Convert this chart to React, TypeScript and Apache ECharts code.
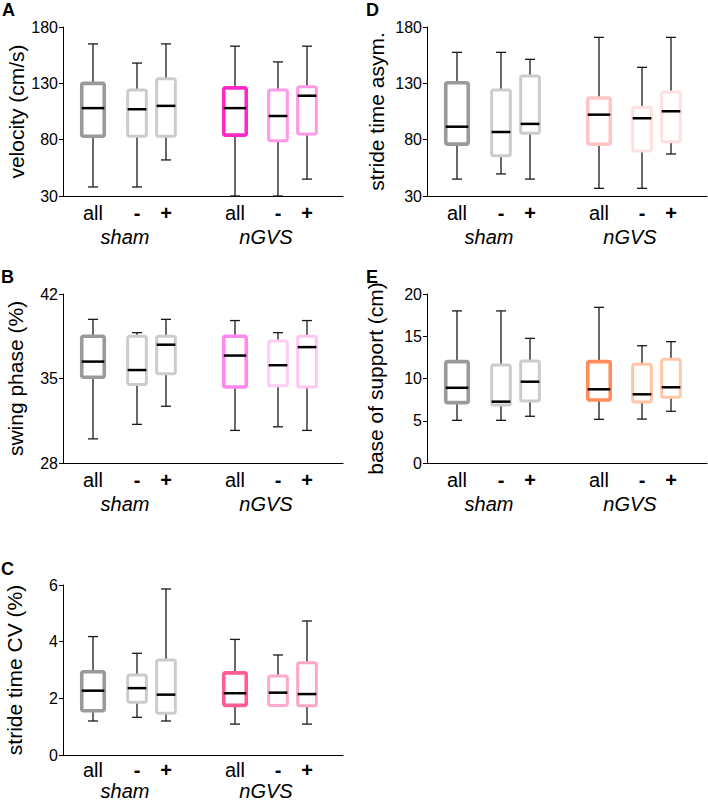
import React, { useEffect, useRef } from 'react';
import * as echarts from 'echarts';

const FONT = '"Liberation Sans", Arial, Helvetica, sans-serif';

const groupLabels = ['sham', 'nGVS'];
const conditionLabels = ['all', '-', '+', 'all', '-', '+'];
const boxX = [3.0, 7.4, 10.3, 17.2, 21.5, 24.4];
const groupX = [6.2, 20.3];

// each row: [lower whisker, q1, median, q3, upper whisker]
const velocity = [
  [38, 83, 108, 130, 165],
  [38, 83, 107, 124, 148],
  [62, 83, 110, 134, 165],
  [30, 84, 108, 126, 163],
  [30, 79, 101, 124, 149],
  [45, 85, 119, 127, 163],
];
const swingPhase = [
  [30.0, 35.1, 36.4, 38.5, 39.9],
  [31.2, 34.5, 35.7, 38.5, 38.8],
  [32.7, 35.4, 37.8, 38.5, 39.9],
  [30.7, 34.3, 36.9, 38.5, 39.8],
  [31.0, 34.4, 36.1, 38.1, 38.8],
  [30.7, 34.3, 37.6, 38.5, 39.8],
];
const strideTimeCV = [
  [1.2, 1.56, 2.27, 2.94, 4.18],
  [1.33, 1.86, 2.36, 2.82, 3.59],
  [1.2, 1.47, 2.13, 3.35, 5.86],
  [1.09, 1.75, 2.18, 2.9, 4.08],
  [1.73, 1.75, 2.2, 2.79, 3.53],
  [1.09, 1.74, 2.15, 3.26, 4.73],
];
const strideTimeAsym = [
  [45, 76, 91.5, 130.5, 157.5],
  [49.6, 65.8, 86.8, 124, 157.5],
  [45, 85.7, 94, 136.5, 151.3],
  [36.8, 76, 102.2, 117, 170.8],
  [36.8, 70, 99, 108.7, 144.2],
  [67.3, 78.2, 105.2, 122.3, 170.8],
];
const baseOfSupport = [
  [5.05, 7.14, 8.9, 12.0, 18.0],
  [5.05, 6.86, 7.26, 11.6, 18.0],
  [5.53, 7.34, 9.62, 12.07, 14.75],
  [5.17, 7.46, 8.72, 12.0, 18.42],
  [5.2, 7.22, 8.13, 11.68, 13.88],
  [6.12, 7.78, 8.96, 12.27, 14.36],
];

const shamColors = ['#9a9a9a', '#cccccc', '#cccccc'];

const panels = [
  {
    letter: 'A', title: 'velocity (cm/s)', data: velocity, min: 30, max: 180, interval: 50,
    colors: [...shamColors, '#ff28c8', '#ff99e6', '#ff99e6'],
    grid: { left: 63, top: 27, width: 280, height: 169 }, nameGap: 34, letterPos: [2, 1],
    catGap: 17, groupGap: 41,
  },
  {
    letter: 'B', title: 'swing phase (%)', data: swingPhase, min: 28, max: 42, interval: 7,
    colors: [...shamColors, '#ff88ee', '#ffccf6', '#ffc6f4'],
    grid: { left: 63, top: 294, width: 280, height: 169 }, nameGap: 37, letterPos: [1, 268],
    catGap: 17, groupGap: 41,
  },
  {
    letter: 'C', title: 'stride time CV (%)', data: strideTimeCV, min: 0, max: 6, interval: 2,
    colors: [...shamColors, '#ff5c90', '#ffaacc', '#ffa6c8'],
    grid: { left: 63, top: 585, width: 280, height: 170 }, nameGap: 38, letterPos: [1, 560],
    catGap: 15, groupGap: 36,
  },
  {
    letter: 'D', title: 'stride time asym.', data: strideTimeAsym, min: 30, max: 180, interval: 50,
    colors: [...shamColors, '#ffc6c6', '#ffe0e0', '#ffe0e0'],
    grid: { left: 427, top: 27, width: 280, height: 169 }, nameGap: 40, letterPos: [366, 1],
    catGap: 17, groupGap: 41,
  },
  {
    letter: 'E', title: 'base of support (cm)', data: baseOfSupport, min: 0, max: 20, interval: 5,
    colors: [...shamColors, '#ff8c5a', '#ffc4a4', '#ffc8a8'],
    grid: { left: 427, top: 294, width: 280, height: 169 }, nameGap: 41, letterPos: [366, 268],
    catGap: 17, groupGap: 41,
  },
];

function buildOption() {
  const grid: any[] = [];
  const xAxis: any[] = [];
  const yAxis: any[] = [];
  const series: any[] = [];
  const graphic: any[] = [];

  panels.forEach((p, pi) => {
    grid.push({ ...p.grid, containLabel: false });
    xAxis.push({
      gridIndex: pi, type: 'value', min: 0, max: 28,
      axisLine: { show: true, onZero: false, lineStyle: { color: '#000', width: 1 } },
      axisTick: { show: false }, axisLabel: { show: false }, splitLine: { show: false },
    });
    yAxis.push({
      gridIndex: pi, type: 'value', min: p.min, max: p.max, interval: p.interval,
      name: p.title, nameLocation: 'middle', nameGap: p.nameGap,
      nameTextStyle: { fontSize: 21, fontFamily: FONT, color: '#000' },
      axisLine: { show: true, onZero: false, lineStyle: { color: '#000', width: 1 } },
      axisTick: { show: true, length: 4, lineStyle: { color: '#000', width: 1 } },
      axisLabel: { fontSize: 16, fontFamily: FONT, color: '#000', margin: 5 },
      splitLine: { show: false },
    });

    const yMin = p.min;
    series.push({
      type: 'custom',
      xAxisIndex: pi, yAxisIndex: pi,
      silent: true,
      clip: false,
      encode: { x: 0, y: 3 },
      data: p.data.map((d, i) => [boxX[i], ...d]),
      renderItem: (params: any, api: any) => {
        const i = params.dataIndex;
        const x = api.value(0);
        const lowY = api.coord([x, api.value(1)])[1];
        const q1Y = api.coord([x, api.value(2)])[1];
        const medY = api.coord([x, api.value(3)])[1];
        const q3Y = api.coord([x, api.value(4)])[1];
        const highY = api.coord([x, api.value(5)])[1];
        const cx = api.coord([x, yMin])[0];
        const baseY = api.coord([x, yMin])[1];
        const isAll = i % 3 === 0;
        const halfW = (isAll ? 2.25 : 1.87) / 2;
        const left = api.coord([x - halfW, yMin])[0];
        const right = api.coord([x + halfW, yMin])[0];
        const capL = api.coord([x - 0.5, yMin])[0];
        const capR = api.coord([x + 0.5, yMin])[0];
        const wStyle = { stroke: '#1a1a1a', lineWidth: 1.3 };
        return {
          type: 'group',
          children: [
            { type: 'line', shape: { x1: cx, y1: q3Y, x2: cx, y2: highY }, style: wStyle },
            { type: 'line', shape: { x1: capL, y1: highY, x2: capR, y2: highY }, style: wStyle },
            { type: 'line', shape: { x1: cx, y1: q1Y, x2: cx, y2: lowY }, style: wStyle },
            { type: 'line', shape: { x1: capL, y1: lowY, x2: capR, y2: lowY }, style: wStyle },
            {
              type: 'rect',
              shape: { x: left, y: q3Y, width: right - left, height: q1Y - q3Y, r: 2 },
              style: { fill: '#fff', stroke: p.colors[i], lineWidth: isAll ? 3.6 : 3 },
            },
            { type: 'line', shape: { x1: left, y1: medY, x2: right, y2: medY }, style: { stroke: '#000', lineWidth: 2.5 } },
            {
              type: 'text',
              style: {
                text: conditionLabels[i], x: cx, y: baseY + p.catGap,
                align: 'center', verticalAlign: 'middle',
                fontSize: 20, fontFamily: FONT, fontWeight: isAll ? 'normal' : 'bold', fill: '#000',
              },
            },
          ],
        };
      },
    });

    series.push({
      type: 'custom',
      xAxisIndex: pi, yAxisIndex: pi,
      silent: true,
      clip: false,
      encode: { x: 0, y: 1 },
      data: groupX.map((gx, gi) => [gx, yMin, gi]),
      renderItem: (params: any, api: any) => {
        const pt = api.coord([api.value(0), yMin]);
        return {
          type: 'text',
          style: {
            text: groupLabels[params.dataIndex], x: pt[0], y: pt[1] + p.groupGap,
            align: 'center', verticalAlign: 'middle',
            fontSize: 20, fontFamily: FONT, fontStyle: 'italic', fill: '#000',
          },
        };
      },
    });

    graphic.push({
      type: 'text', left: p.letterPos[0], top: p.letterPos[1],
      style: { text: p.letter, fontSize: 18, fontWeight: 'bold', fontFamily: FONT, fill: '#000' },
    });
  });

  return { animation: false, backgroundColor: '#fff', grid, xAxis, yAxis, series, graphic };
}

export default function App() {
  const ref = useRef<HTMLDivElement>(null);
  useEffect(() => {
    if (!ref.current) return;
    const chart = echarts.init(ref.current, undefined, { renderer: 'svg' });
    chart.setOption(buildOption() as any);
    return () => chart.dispose();
  }, []);
  return (
    <div
      ref={ref}
      style={{ position: 'absolute', left: 0, top: 0, width: 708, height: 803, background: '#fff' }}
    />
  );
}
